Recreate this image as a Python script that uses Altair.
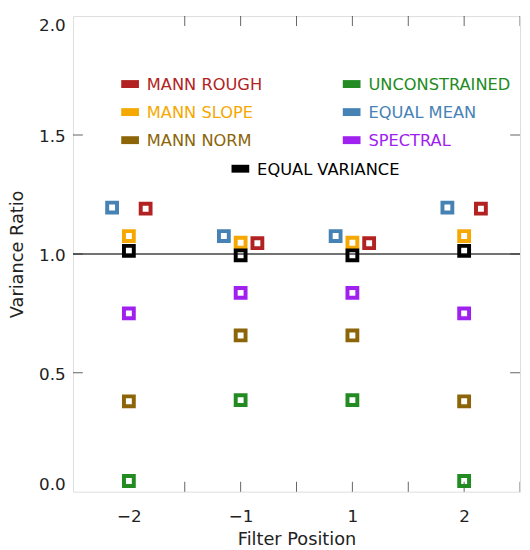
import altair as alt
import pandas as pd

# ---- data ----
positions = [-2, -1, 1, 2]
series_names = ["UNCONSTRAINED", "MANN ROUGH", "MANN SLOPE", "MANN NORM",
                "EQUAL MEAN", "SPECTRAL", "EQUAL VARIANCE"]
series_colors = ["#228B22", "#B22222", "#F5A800", "#8B6508",
                 "#4682B4", "#A020F0", "#000000"]
unconstrained = [0.045, 0.385, 0.385, 0.045]
mann_rough = [1.19, 1.045, 1.045, 1.19]
mann_slope = [1.075, 1.047, 1.047, 1.075]
mann_norm = [0.38, 0.657, 0.657, 0.38]
equal_mean = [1.195, 1.075, 1.075, 1.195]
spectral = [0.75, 0.836, 0.836, 0.75]
equal_variance = [1.013, 0.994, 0.994, 1.013]
y_ticks = [0.5, 1.0, 1.5]

series_values = [unconstrained, mann_rough, mann_slope, mann_norm,
                 equal_mean, spectral, equal_variance]
series_offset = {"EQUAL MEAN": -0.15, "MANN ROUGH": 0.15}

rows = []
for name, vals in zip(series_names, series_values):
    for i, (p, v) in enumerate(zip(positions, vals)):
        rows.append({"series": name, "pos": p,
                     "xi": i + series_offset.get(name, 0.0), "value": v,
                     "order": series_names.index(name)})
df = pd.DataFrame(rows)

FONT = "DejaVu Sans"
W, H = 454, 483
xdom = [-0.5, len(positions) - 0.5]
ydom = [0, 2]
xscale = alt.Scale(domain=xdom, nice=False, zero=False)
yscale = alt.Scale(domain=ydom, nice=False, zero=False)

label_expr = " : ".join(
    [f"datum.value == {i} ? '{str(p).replace('-', '−')}'" for i, p in enumerate(positions)]
) + " : ''"

base = alt.Chart(df)

points = base.mark_square(filled=False, size=100, strokeWidth=4, opacity=1).encode(
    x=alt.X("xi:Q", scale=xscale,
            axis=alt.Axis(values=list(range(len(positions))), labelExpr=label_expr,
                          title="Filter Position", ticks=False, domain=False, grid=False,
                          labelFont=FONT, labelFontSize=17, labelColor="#222",
                          labelPadding=17, titleFont=FONT, titleFontSize=18,
                          titleFontWeight="normal", titleColor="#222", titlePadding=7)),
    y=alt.Y("value:Q", scale=yscale,
            axis=alt.Axis(values=[0, 0.5, 1.0, 1.5, 2.0], format=".1f",
                          title="Variance Ratio", ticks=False, domain=False, grid=False,
                          labelFont=FONT, labelFontSize=17, labelColor="#222",
                          labelPadding=8, labelFlush=True, labelFlushOffset=0,
                          labelOffset=2,
                          titleFont=FONT, titleFontSize=18, titleFontWeight="normal",
                          titleColor="#222", titlePadding=12)),
    color=alt.Color("series:N", scale=alt.Scale(domain=series_names, range=series_colors),
                    legend=None),
    order=alt.Order("order:Q"),
)

one_line = alt.Chart(pd.DataFrame({"y": [1.0]})).mark_rule(
    color="#444", strokeWidth=1.5).encode(y=alt.Y("y:Q", scale=yscale))

# inward tick marks on all four sides
xt = pd.DataFrame({"x": [i * 0.5 for i in range(1, 2 * len(positions))],
                   "y0": [ydom[0]] * (2 * len(positions) - 1),
                   "y1": [ydom[1]] * (2 * len(positions) - 1)})
yt = pd.DataFrame({"y": y_ticks, "x0": [xdom[0]] * len(y_ticks),
                   "x1": [xdom[1]] * len(y_ticks)})
tick_style = dict(clip=True, size=20, thickness=1, color="#222")
ticks_bottom = alt.Chart(xt).mark_tick(orient="vertical", **tick_style).encode(
    x=alt.X("x:Q", scale=xscale), y=alt.Y("y0:Q", scale=yscale))
ticks_top = alt.Chart(xt).mark_tick(orient="vertical", **tick_style).encode(
    x=alt.X("x:Q", scale=xscale), y=alt.Y("y1:Q", scale=yscale))
ticks_left = alt.Chart(yt).mark_tick(orient="horizontal", **tick_style).encode(
    x=alt.X("x0:Q", scale=xscale), y=alt.Y("y:Q", scale=yscale))
ticks_right = alt.Chart(yt).mark_tick(orient="horizontal", **tick_style).encode(
    x=alt.X("x1:Q", scale=xscale), y=alt.Y("y:Q", scale=yscale))

# hand-made legend inside the plot
legend_order = ["MANN ROUGH", "MANN SLOPE", "MANN NORM",
                "UNCONSTRAINED", "EQUAL MEAN", "SPECTRAL", "EQUAL VARIANCE"]
legend_layers = []
one = pd.DataFrame({"a": [0]})
for k, name in enumerate(legend_order):
    col = series_colors[series_names.index(name)]
    if k < 6:
        bx = 49 + 225 * (k // 3)
        by = 69 + 28.5 * (k % 3)
    else:
        bx = 161
        by = 155
    legend_layers.append(alt.Chart(one).mark_rect(color=col).encode(
        x=alt.value(bx), x2=alt.value(bx + 18), y=alt.value(by - 4), y2=alt.value(by + 4)))
    legend_layers.append(alt.Chart(one).mark_text(
        align="left", baseline="middle", font=FONT, fontSize=16.5, color=col).encode(
        x=alt.value(bx + 26), y=alt.value(by + 1), text=alt.value(name)))

chart = alt.layer(one_line, ticks_bottom, ticks_top, ticks_left, ticks_right,
                  points, *legend_layers).properties(
    width=W, height=H,
    padding={"left": 66, "top": 4, "right": 2, "bottom": 55},
    autosize=alt.AutoSizeParams(type="none"),
).configure_view(stroke="#222", strokeWidth=1.5).configure(background="white")

chart.save("out.html", embed_options={"renderer": "svg", "actions": False})
